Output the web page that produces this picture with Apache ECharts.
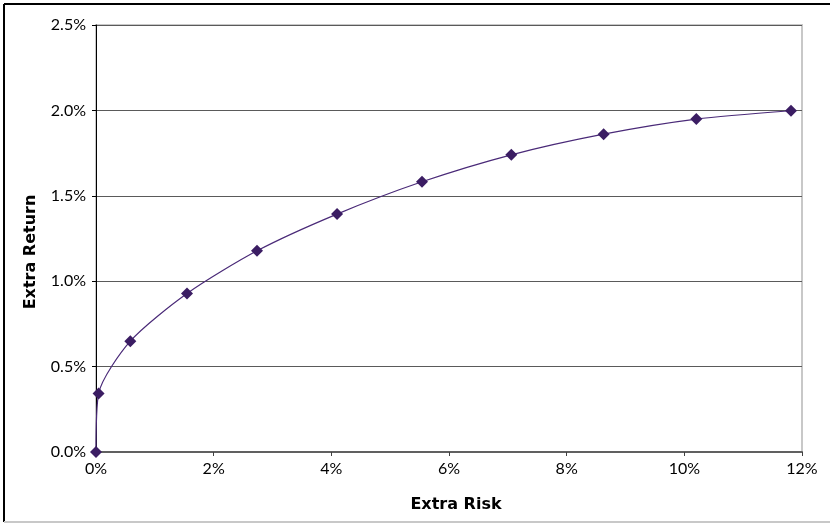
<!DOCTYPE html>
<html>
<head>
<meta charset="utf-8">
<script src="https://cdn.jsdelivr.net/npm/echarts@6/dist/echarts.min.js"></script>
<style>html,body{margin:0;padding:0;background:#fff}#c{width:830px;height:524px}</style>
</head>
<body>
<div id="c"></div>
<script>
// Data (percent units)
var extraRisk = [0, 0.044, 0.583, 1.547, 2.737, 4.097, 5.541, 7.059, 8.628, 10.204, 11.813];
var extraReturn = [0, 0.342, 0.649, 0.928, 1.178, 1.393, 1.582, 1.740, 1.861, 1.949, 1.998];
var xAxisTitle = 'Extra Risk';
var yAxisTitle = 'Extra Return';

var pts = extraRisk.map(function (x, i) { return [x, extraReturn[i]]; });
var font = 'Lato, "DejaVu Sans", sans-serif';
var titleFont = '"DejaVu Sans", sans-serif';
var chart = echarts.init(document.getElementById('c'), null, {renderer: 'canvas'});
chart.setOption({
  animation: false,
  backgroundColor: '#fff',
  grid: {left: 96, right: 28, top: 25, bottom: 72, show: true, borderColor: '#c8c8c8', borderWidth: 2, backgroundColor: 'transparent'},
  xAxis: {
    type: 'value', min: 0, max: 12, interval: 2,
    axisLine: {show: true, onZero: false, lineStyle: {color: '#606060', width: 2}},
    axisTick: {show: true, length: 4, lineStyle: {color: '#404040'}},
    splitLine: {show: false},
    axisLabel: {color: '#000', fontFamily: font, fontSize: 16, margin: 9, formatter: function (v) { return v + '%'; }}
  },
  yAxis: {
    type: 'value', min: 0, max: 2.5, interval: 0.5,
    axisLine: {show: true, lineStyle: {color: '#000', width: 1}},
    axisTick: {show: true, length: 4, lineStyle: {color: '#000'}},
    splitLine: {show: true, lineStyle: {color: '#5a5a5a', width: 1}},
    axisLabel: {color: '#000', fontFamily: font, fontSize: 16, margin: 10, formatter: function (v) { return v.toFixed(1) + '%'; }}
  },
  series: [{
    type: 'line', data: pts, smooth: 0.25,
    symbol: 'diamond', symbolSize: 12,
    itemStyle: {color: '#3b1d63'},
    lineStyle: {color: '#4a2a78', width: 1.2}
  }],
  graphic: [
    {type: 'line', shape: {x1: 4, y1: 4, x2: 830, y2: 4}, style: {stroke: '#000', lineWidth: 2}},
    {type: 'line', shape: {x1: 4, y1: 4, x2: 4, y2: 522}, style: {stroke: '#000', lineWidth: 2}},
    {type: 'line', shape: {x1: 4, y1: 522, x2: 830, y2: 522}, style: {stroke: '#c8c8c8', lineWidth: 2}},
    {type: 'text', x: 456, y: 505, style: {text: xAxisTitle, font: 'bold 16px ' + titleFont, fill: '#000', textAlign: 'center', textVerticalAlign: 'middle'}},
    {type: 'text', x: 31, y: 252, rotation: Math.PI / 2, style: {text: yAxisTitle, font: 'bold 16px ' + titleFont, fill: '#000', textAlign: 'center', textVerticalAlign: 'middle'}}
  ]
});
</script>
</body>
</html>
